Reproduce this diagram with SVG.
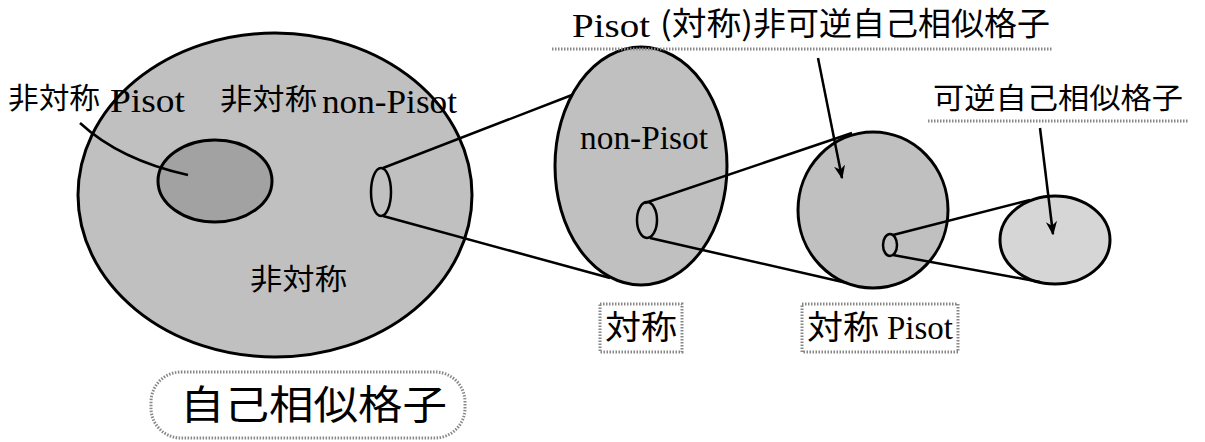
<svg xmlns="http://www.w3.org/2000/svg" width="1205" height="442" viewBox="0 0 1205 442">
<style>
.e{stroke:#000;stroke-width:3}
.g1{fill:#c0c0c0}
.g2{fill:#a2a2a2}
.g3{fill:#d6d6d6}
.c{fill:none;stroke:#000;stroke-width:2.5}
.t{font-family:"Liberation Serif","Noto Sans CJK JP",serif;fill:#000}
.j{font-family:"Noto Sans CJK JP","Liberation Serif",sans-serif;fill:#000}
.box{fill:#fff;stroke:#888;stroke-width:3;stroke-dasharray:1.5 1.5}
.ul{stroke:#888;stroke-width:3;stroke-dasharray:1.5 1.5}
</style>
<defs>
<marker id="ah" viewBox="0 0 10 10" refX="9" refY="5" markerWidth="14" markerHeight="14" orient="auto" markerUnits="userSpaceOnUse">
<path d="M0,1 L10,5 L0,9 L3,5 z" fill="#000"/>
</marker>
</defs>
<rect width="1205" height="442" fill="#fff"/>
<g id="node-main">
<ellipse class="e g1" cx="275" cy="195" rx="197" ry="162"/>
<text class="j" x="220" y="110" font-size="29" textLength="97" lengthAdjust="spacingAndGlyphs">非対称</text>
<text class="t" x="322" y="113" font-size="34" textLength="135" lengthAdjust="spacingAndGlyphs">non-Pisot</text>
<text class="j" x="250" y="290" font-size="29" textLength="97" lengthAdjust="spacingAndGlyphs">非対称</text>
</g>
<g id="node-asym-pisot">
<ellipse class="e g2" cx="215" cy="181" rx="57" ry="41"/>
<text class="j" x="8" y="109" font-size="29" textLength="92" lengthAdjust="spacingAndGlyphs">非対称</text>
<text class="t" x="110" y="112" font-size="34" textLength="75" lengthAdjust="spacingAndGlyphs">Pisot</text>
</g>
<g id="node-sym">
<ellipse class="e g1" cx="641" cy="166" rx="86" ry="119"/>
<text class="t" x="580" y="149" font-size="34" textLength="128" lengthAdjust="spacingAndGlyphs">non-Pisot</text>
<rect class="box" x="600" y="304" width="82" height="48"/>
<text class="j" x="605" y="339" font-size="33" textLength="72" lengthAdjust="spacingAndGlyphs">対称</text>
</g>
<g id="node-sym-pisot">
<ellipse class="e g1" cx="873" cy="210" rx="75" ry="78"/>
<rect class="box" x="802" y="304" width="156" height="48"/>
<text class="j" x="807" y="339" font-size="33" textLength="72" lengthAdjust="spacingAndGlyphs">対称</text>
<text class="t" x="887" y="339" font-size="33" textLength="66" lengthAdjust="spacingAndGlyphs">Pisot</text>
</g>
<g id="node-invertible">
<ellipse class="e g3" cx="1055" cy="240" rx="55" ry="44"/>
</g>
<g id="label-noninv">
<text class="t" x="572" y="37" font-size="33" textLength="78" lengthAdjust="spacingAndGlyphs">Pisot</text>
<text class="j" x="660" y="35" font-size="32" textLength="93" lengthAdjust="spacingAndGlyphs">(対称)</text>
<text class="j" x="753" y="35" font-size="32" textLength="297" lengthAdjust="spacingAndGlyphs">非可逆自己相似格子</text>
<line class="ul" x1="552" y1="49" x2="1052" y2="49"/>
</g>
<g id="label-inv">
<text class="j" x="933" y="109" font-size="29" textLength="250" lengthAdjust="spacingAndGlyphs">可逆自己相似格子</text>
<line class="ul" x1="928" y1="121" x2="1188" y2="121"/>
</g>
<g id="label-self">
<rect class="box" x="151" y="372" width="314" height="66" rx="30"/>
<text class="j" x="180" y="419" font-size="40" textLength="267" lengthAdjust="spacingAndGlyphs">自己相似格子</text>
</g>
<g id="connectors">
<ellipse class="c" cx="381" cy="192" rx="10" ry="24"/>
<path class="c" d="M383,168 L572,95 M383,216 L610,278"/>
<ellipse class="c" cx="647" cy="220" rx="10" ry="18"/>
<path class="c" d="M645,203 L852,133 M650,238 L847,283"/>
<ellipse class="c" cx="890" cy="245" rx="7" ry="11"/>
<path class="c" d="M893,235 L1030,200 M893,255 L1040,282"/>
<path class="c" d="M80,123 Q120,160 188,175"/>
<line class="c" x1="818" y1="58" x2="842" y2="178" marker-end="url(#ah)"/>
<line class="c" x1="1040" y1="128" x2="1053" y2="234" marker-end="url(#ah)"/>
</g>
</svg>
